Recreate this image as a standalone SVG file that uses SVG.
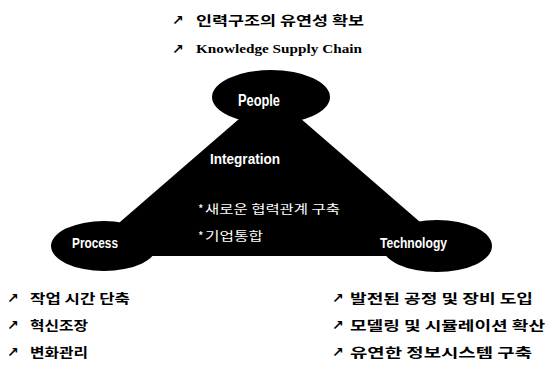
<svg xmlns="http://www.w3.org/2000/svg" width="547" height="368" viewBox="0 0 547 368">
<style>
.blob{fill:#000;}
.lbl{fill:#fff;font-family:"Liberation Sans",Arial,sans-serif;font-weight:bold;}
.inner{fill:#fff;font-family:"Noto Sans CJK KR","Liberation Sans",sans-serif;font-size:12px;}
.kr{fill:#000;font-family:"Noto Sans CJK KR",sans-serif;font-weight:bold;font-size:13px;}
.arr{fill:#000;font-family:"DejaVu Sans",sans-serif;font-weight:bold;font-size:14px;}
.en{fill:#000;font-family:"Liberation Serif","Times New Roman",serif;font-weight:bold;font-size:13px;}
</style>
<rect width="547" height="368" fill="#fff"/>

<g id="top-notes">
  <text class="arr" x="172" y="25">↗</text>
  <text class="kr" x="196" y="25" font-size="14" textLength="168" lengthAdjust="spacingAndGlyphs">인력구조의 유연성 확보</text>
  <text class="arr" x="172" y="54">↗</text>
  <text class="en" x="196" y="53" textLength="166" lengthAdjust="spacingAndGlyphs">Knowledge Supply Chain</text>
</g>

<g id="integration">
  <polygon class="blob" points="270,92 420,222 420,256 120,256 120,222"/>
  <text class="lbl" x="210" y="164" font-size="15" textLength="70" lengthAdjust="spacingAndGlyphs">Integration</text>
  <text class="inner" x="198" y="214">*</text>
  <text class="inner" x="205" y="214" textLength="135" lengthAdjust="spacingAndGlyphs">새로운 협력관계 구축</text>
  <text class="inner" x="198" y="241">*</text>
  <text class="inner" x="205" y="241" textLength="58" lengthAdjust="spacingAndGlyphs">기업통합</text>
</g>

<g id="people">
  <ellipse class="blob" cx="271" cy="97" rx="59" ry="27"/>
  <text class="lbl" x="238" y="106" font-size="16" textLength="42" lengthAdjust="spacingAndGlyphs">People</text>
</g>

<g id="process">
  <ellipse class="blob" cx="104" cy="246" rx="53" ry="25"/>
  <text class="lbl" x="72" y="248" font-size="15" textLength="46" lengthAdjust="spacingAndGlyphs">Process</text>
</g>

<g id="technology">
  <ellipse class="blob" cx="437" cy="246" rx="55" ry="26"/>
  <text class="lbl" x="380" y="248" font-size="15" textLength="67" lengthAdjust="spacingAndGlyphs">Technology</text>
</g>

<g id="process-notes">
  <text class="arr" x="7" y="303">↗</text>
  <text class="kr" x="30" y="303" textLength="100" lengthAdjust="spacingAndGlyphs">작업 시간 단축</text>
  <text class="arr" x="7" y="330">↗</text>
  <text class="kr" x="30" y="330" textLength="58" lengthAdjust="spacingAndGlyphs">혁신조장</text>
  <text class="arr" x="7" y="357">↗</text>
  <text class="kr" x="30" y="357" textLength="58" lengthAdjust="spacingAndGlyphs">변화관리</text>
</g>

<g id="technology-notes">
  <text class="arr" x="332" y="303">↗</text>
  <text class="kr" x="350" y="303" textLength="183" lengthAdjust="spacingAndGlyphs">발전된 공정 및 장비 도입</text>
  <text class="arr" x="332" y="330">↗</text>
  <text class="kr" x="350" y="330" textLength="195" lengthAdjust="spacingAndGlyphs">모델링 및 시뮬레이션 확산</text>
  <text class="arr" x="332" y="357">↗</text>
  <text class="kr" x="350" y="357" textLength="182" lengthAdjust="spacingAndGlyphs">유연한 정보시스템 구축</text>
</g>
</svg>
